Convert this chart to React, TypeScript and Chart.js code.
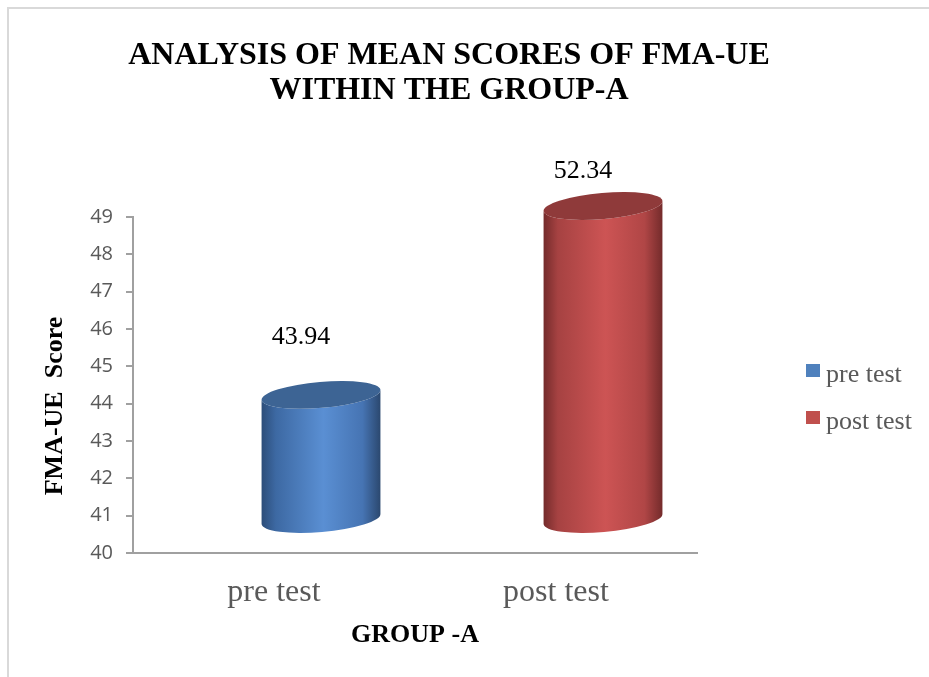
import { useEffect, useRef } from "react";
import { Chart, registerables } from "chart.js";

Chart.register(...registerables);

const categories = ["pre test", "post test"];
const scores = [43.94, 52.34];
const yMin = 40;
const yMax = 49;
const yStep = 1;
const legendColors = ["#4f81bd", "#c0504d"];
const titleLines = ["ANALYSIS OF MEAN SCORES OF FMA-UE", "WITHIN THE GROUP-A"];
const yTitle = "FMA-UE  Score";
const xTitle = "GROUP -A";

const bodyStops = [
  ["#2c4d79", "#3d69a3", "#5a8fd3", "#4674b3", "#2b486f"],
  ["#742b2b", "#a64242", "#cd5454", "#b04646", "#742b2b"],
];
const topColors = ["#3d6494", "#8f3a3a"];

const SERIF = '"Liberation Serif", "Times New Roman", serif';

const cylinderPlugin = {
  id: "cylinders",
  afterDatasetsDraw(chart: any) {
    const ctx = chart.ctx as CanvasRenderingContext2D;
    const meta = chart.getDatasetMeta(0);
    const area = chart.chartArea;
    const yScale = chart.scales.y;
    const rot = -0.085;
    const dx = 47;
    const basePx = yScale.getPixelForValue(yMin);
    meta.data.forEach((el: any, i: number) => {
      const cx = el.x + dx;
      const rx = el.width / 2;
      const ry = 13;
      const topY = Math.max(el.y, area.top) - 11;
      const botY = basePx - 34;
      const cosR = Math.cos(rot);
      const sinR = Math.sin(rot);
      const lx = cx - rx * cosR;
      const rxp = cx + rx * cosR;
      const grad = ctx.createLinearGradient(lx, 0, rxp, 0);
      const st = bodyStops[i];
      grad.addColorStop(0, st[0]);
      grad.addColorStop(0.12, st[1]);
      grad.addColorStop(0.52, st[2]);
      grad.addColorStop(0.85, st[3]);
      grad.addColorStop(1, st[4]);
      ctx.save();
      ctx.beginPath();
      ctx.moveTo(lx, topY - rx * sinR);
      ctx.lineTo(lx, botY - rx * sinR);
      ctx.ellipse(cx, botY, rx, ry, rot, Math.PI, 0, true);
      ctx.lineTo(rxp, topY + rx * sinR);
      ctx.ellipse(cx, topY, rx, ry, rot, 0, Math.PI, false);
      ctx.closePath();
      ctx.fillStyle = grad;
      ctx.fill();
      ctx.beginPath();
      ctx.ellipse(cx, topY, rx, ry, rot, 0, Math.PI * 2);
      ctx.fillStyle = topColors[i];
      ctx.fill();
      ctx.restore();

      // data label
      const v = scores[i];
      const ly = Math.max(yScale.getPixelForValue(v + 1.85), area.top - 46);
      ctx.save();
      ctx.font = `26px ${SERIF}`;
      ctx.fillStyle = "#000000";
      ctx.textAlign = "center";
      ctx.textBaseline = "middle";
      ctx.fillText(v.toFixed(2), el.x + 27, ly);
      ctx.restore();
    });
  },
  afterDraw(chart: any) {
    const ctx = chart.ctx as CanvasRenderingContext2D;
    const area = chart.chartArea;
    ctx.save();
    // title
    ctx.fillStyle = "#000000";
    ctx.font = `bold 32px ${SERIF}`;
    ctx.textAlign = "center";
    ctx.textBaseline = "alphabetic";
    titleLines.forEach((t, i) => ctx.fillText(t, 449, 64 + i * 35));
    // x title
    ctx.font = `bold 26px ${SERIF}`;
    ctx.fillText(xTitle, (area.left + area.right) / 2, 642);
    // y title
    ctx.save();
    ctx.translate(62, 406);
    ctx.rotate(-Math.PI / 2);
    ctx.textBaseline = "alphabetic";
    ctx.fillText(yTitle, 0, 0);
    ctx.restore();
    // legend
    ctx.font = `26px ${SERIF}`;
    ctx.textAlign = "left";
    categories.forEach((c, i) => {
      const y = 364 + i * 47;
      ctx.fillStyle = legendColors[i];
      ctx.fillRect(806, y, 14, 13);
      ctx.fillStyle = "#595959";
      ctx.fillText(c, 826, y + 18);
    });
    ctx.restore();
  },
};

export default function App() {
  const ref = useRef<HTMLCanvasElement | null>(null);
  useEffect(() => {
    if (!ref.current) return;
    const chart = new Chart(ref.current, {
      type: "bar",
      data: {
        labels: categories,
        datasets: [
          {
            label: "FMA-UE",
            data: scores,
            backgroundColor: "rgba(0,0,0,0)",
            borderWidth: 0,
            categoryPercentage: 1,
            barPercentage: 0.423,
          },
        ],
      },
      options: {
        responsive: false,
        animation: false,
        events: [],
        layout: { padding: { top: 217, right: 232, bottom: 0, left: 0 } },
        plugins: {
          legend: { display: false },
          title: { display: false },
          tooltip: { enabled: false },
        },
        scales: {
          x: {
            grid: { display: false, drawTicks: false },
            border: { display: true, color: "#a0a0a0", width: 2 },
            ticks: {
              font: { family: SERIF, size: 32 },
              color: "#595959",
              padding: 20,
            },
            afterFit: (s: any) => {
              s.height = 124;
            },
          },
          y: {
            min: yMin,
            max: yMax,
            grid: {
              drawOnChartArea: false,
              drawTicks: true,
              tickLength: 7,
              color: "#a0a0a0",
              lineWidth: 2,
            },
            border: { display: true, color: "#a0a0a0", width: 2 },
            ticks: {
              stepSize: yStep,
              font: { family: '"Open Sans", sans-serif', size: 20 },
              color: "#595959",
              padding: 13,
            },
            afterFit: (s: any) => {
              s.width = 133;
            },
          },
        },
      },
      plugins: [cylinderPlugin],
    });
    return () => chart.destroy();
  }, []);
  return (
    <div
      style={{
        position: "fixed",
        left: 0,
        top: 0,
        width: 929,
        height: 677,
        background: "#ffffff",
        overflow: "hidden",
      }}
    >
      <div
        style={{
          position: "absolute",
          left: 7,
          top: 7,
          width: 2000,
          height: 2000,
          borderLeft: "2px solid #d9d9d9",
          borderTop: "2px solid #d9d9d9",
        }}
      />
      <canvas
        ref={ref}
        width={929}
        height={677}
        style={{ position: "absolute", left: 0, top: 0, width: 929, height: 677 }}
      />
    </div>
  );
}
